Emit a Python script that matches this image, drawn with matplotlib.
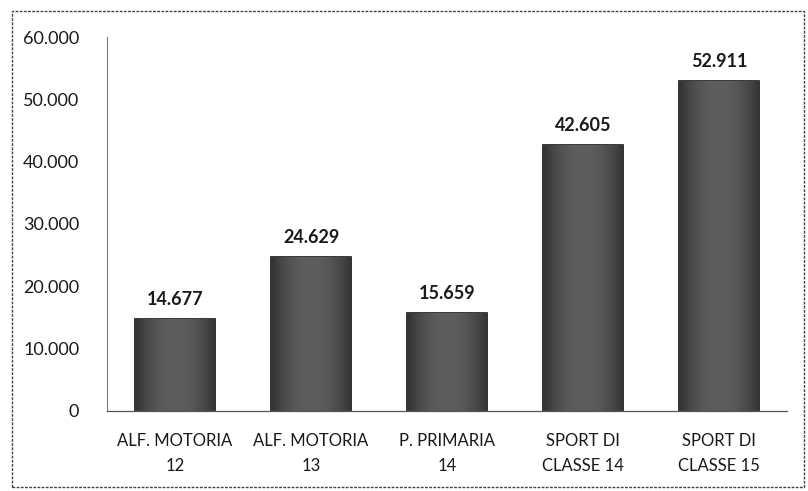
import numpy as np
import matplotlib.pyplot as plt
from matplotlib.patches import Rectangle
from matplotlib.ticker import FuncFormatter

plt.rcParams['font.family'] = ['Lato', 'DejaVu Sans']

# dati
categorie = ['ALF. MOTORIA\n12', 'ALF. MOTORIA\n13', 'P. PRIMARIA\n14',
             'SPORT DI\nCLASSE 14', 'SPORT DI\nCLASSE 15']
valori = [14677, 24629, 15659, 42605, 52911]
etichette = ['14.677', '24.629', '15.659', '42.605', '52.911']
yticks = [0, 10000, 20000, 30000, 40000, 50000, 60000]

fig = plt.figure(figsize=(8.08, 4.91), dpi=100)
ax = fig.add_axes([0.1324, 0.163, 0.842, 0.7616])

x = np.arange(len(valori))
bars = ax.bar(x, valori, width=0.59, color='#505050', edgecolor='#151515', linewidth=1.2, zorder=2)

# sfumatura orizzontale: bordi scuri, centro piu' chiaro
gx = np.linspace(-1, 1, 64)
shade = np.tile(0.2 + 0.17 * (1 - gx**2), (8, 1))
for b in bars:
    bx, by, bw, bh = b.get_x(), b.get_y(), b.get_width(), b.get_height()
    im = ax.imshow(shade, cmap='gray', vmin=0, vmax=1, aspect='auto',
                   extent=[bx, bx + bw, by, by + bh], zorder=2.5, interpolation='bicubic')
    im.set_clip_path(b)

for xi, v, lab in zip(x, valori, etichette):
    ax.text(xi, v + 1800, lab, ha='center', va='bottom', fontsize=13,
            fontweight='bold', color='#1a1a1a')

ax.set_xlim(-0.5, len(valori) - 0.5)
ax.set_ylim(0, 60000)
ax.set_yticks(yticks)
ax.yaxis.set_major_formatter(FuncFormatter(lambda v, p: '0' if v == 0 else f'{int(v):,}'.replace(',', '.')))
ax.set_xticks(x)
ax.set_xticklabels(categorie, fontsize=12, color='#1a1a1a', linespacing=1.65)
ax.tick_params(axis='both', length=0, labelsize=13, colors='#1a1a1a')
ax.tick_params(axis='x', pad=16, labelsize=12)
ax.tick_params(axis='y', pad=20)

for s in ['top', 'right']:
    ax.spines[s].set_visible(False)
ax.spines['left'].set_color('#777777')
ax.spines['left'].set_linestyle((0, (1, 1)))
ax.spines['left'].set_linewidth(0.8)
ax.spines['bottom'].set_color('#555555')
ax.spines['bottom'].set_linewidth(0.9)

# cornice esterna
fig.patches.append(Rectangle((12 / 808, 4 / 491), 792 / 808, 476 / 491,
                             transform=fig.transFigure, fill=False,
                             edgecolor='#444444', linewidth=1.0, linestyle=(0, (2, 1))))

fig.savefig('out.png', dpi=100)
